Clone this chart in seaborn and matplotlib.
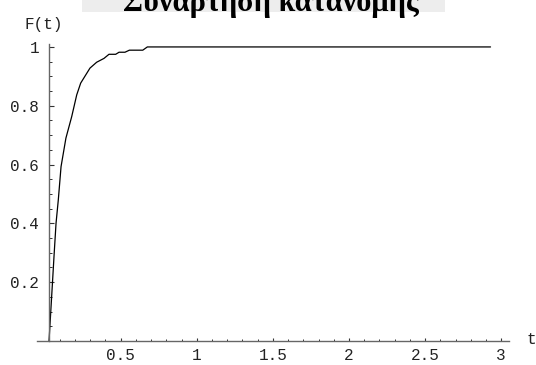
import matplotlib
matplotlib.use("Agg")
import matplotlib.pyplot as plt
import seaborn as sns
import pandas as pd
import numpy as np
from matplotlib.patches import Rectangle

# ---- data ----
t_vals = [0.029, 0.045, 0.062, 0.075, 0.09, 0.108, 0.14, 0.178, 0.211, 0.237,
          0.298, 0.342, 0.39, 0.423, 0.467, 0.489, 0.528, 0.557, 0.645, 0.675, 2.93]
F_vals = [0.0, 0.14, 0.29, 0.40, 0.48, 0.593, 0.69, 0.763, 0.837, 0.877,
          0.928, 0.948, 0.961, 0.975, 0.975, 0.982, 0.982, 0.989, 0.989, 1.0, 1.0]
x_ticks = [0.5, 1, 1.5, 2, 2.5, 3]
x_labels = ["0.5", "1", "1.5", "2", "2.5", "3"]
y_ticks = [0.2, 0.4, 0.6, 0.8, 1.0]
y_labels = ["0.2", "0.4", "0.6", "0.8", "1"]
title = "Συνάρτηση κατανομής"

df = pd.DataFrame({"t": t_vals, "F": F_vals})

sns.set_theme(style="white")
plt.rcParams['font.family'] = ['Liberation Mono', 'DejaVu Sans']

W, H = 536, 365
fig = plt.figure(figsize=(W / 100, H / 100), dpi=100)
fig.patch.set_facecolor("white")

# axes placement (pixels): x from 37 to 508.8, y from 341 (bottom) to 44 (top)
left, right = 37 / W, 508.8 / W
bottom, top = (H - 341) / H, (H - 44) / H
ax = fig.add_axes([left, bottom, right - left, top - bottom])
ax.set_facecolor("white")

sns.lineplot(data=df, x="t", y="F", ax=ax, color="black", linewidth=0.9,
             estimator=None, sort=False)

ax.set_xlim(-0.05, 3.05)
ax.set_ylim(0, 1.01)

axis_col = "#666666"
for s in ["top", "right"]:
    ax.spines[s].set_visible(False)
ax.spines["left"].set_position(("data", 0.029))
ax.spines["left"].set_bounds(0, 1.01)
ax.spines["bottom"].set_position(("data", 0))
for s in ["left", "bottom"]:
    ax.spines[s].set_color(axis_col)
    ax.spines[s].set_linewidth(1.0)

ax.set_xticks(x_ticks)
ax.set_xticklabels(x_labels)
ax.set_xticks(np.round(np.arange(0.1, 3.01, 0.1), 2), minor=True)
ax.set_yticks(y_ticks)
ax.set_yticklabels(y_labels)
ax.set_yticks(np.round(np.arange(0.05, 1.001, 0.05), 2), minor=True)

fs = 11.5
ax.tick_params(axis="x", which="major", direction="in", length=2.2, width=0.8,
               color="#333333", pad=5, labelsize=fs, labelcolor="#222222")
ax.tick_params(axis="x", which="minor", direction="in", length=1.3, width=0.7,
               color="#333333")
ax.tick_params(axis="y", which="major", direction="in", length=3.4, width=0.8,
               color="#333333", pad=7, labelsize=fs, labelcolor="#222222")
ax.tick_params(axis="y", which="minor", direction="in", length=2.2, width=0.7,
               color="#333333")
ax.tick_params(bottom=True, left=True, which="both")
ax.set_xlabel("")
ax.set_ylabel("")
ax.grid(False)

# axis labels
fig.text(527 / W, 1 - 340 / H, "t", ha="left", va="center", fontsize=fs,
         color="#222222", family=['Liberation Mono'])
fig.text(44 / W, 1 - 24 / H, "F(t)", ha="center", va="center", fontsize=fs,
         color="#222222", family=['Liberation Mono'])

# title (clipped at top, as in the reference)
fig.patches.append(Rectangle((82 / W, 1 - 12 / H), (445 - 82) / W, 12 / H,
                             transform=fig.transFigure, facecolor="#ededed",
                             edgecolor="none", zorder=0))
fig.text(271 / W, 1 - 10.5 / H, title, ha="center", va="baseline",
         fontsize=22, fontweight="bold", color="black",
         family=['Liberation Serif', 'DejaVu Serif'])

fig.savefig("out.png", dpi=100, facecolor="white")
